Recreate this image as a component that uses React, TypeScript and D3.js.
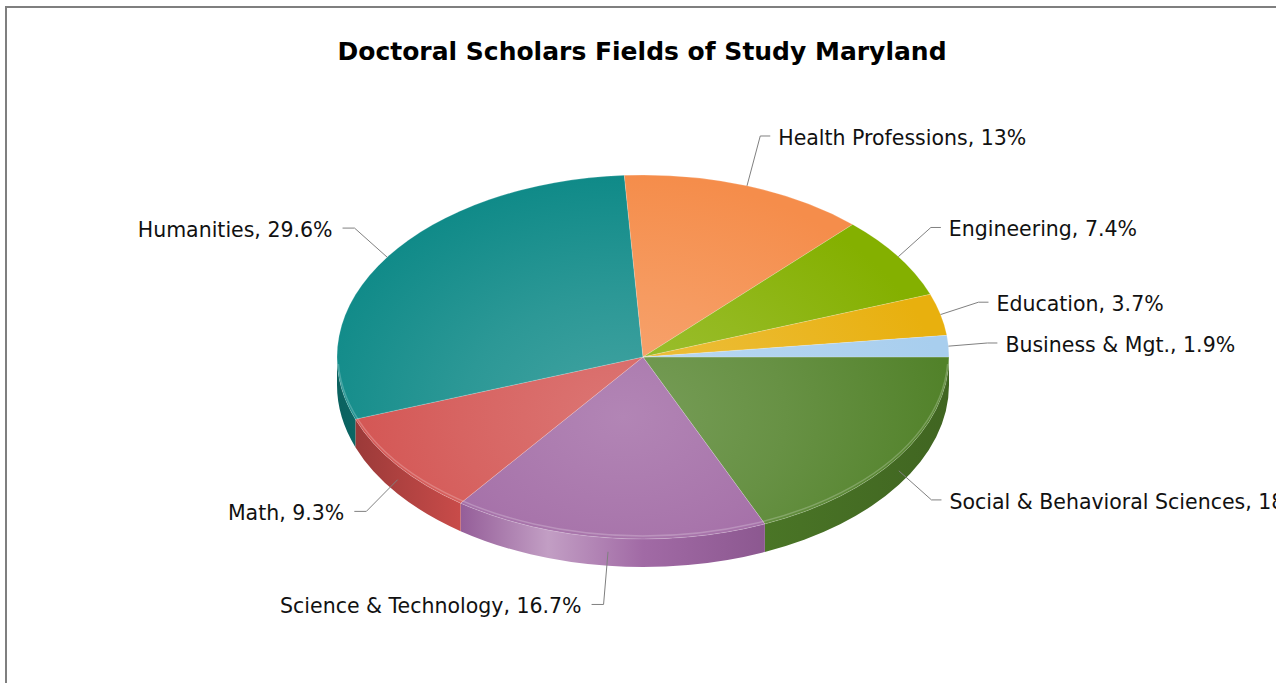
import React from 'react';
import * as d3 from 'd3';

// slices listed clockwise from 3 o'clock
const fields = [
  'Social & Behavioral Sciences',
  'Science & Technology',
  'Math',
  'Humanities',
  'Health Professions',
  'Engineering',
  'Education',
  'Business & Mgt.',
];
const shares = [18.5, 16.7, 9.3, 29.6, 13, 7.4, 3.7, 1.9];
const colors = ['#52822a', '#9c62a0', '#d24f4d', '#0f8a88', '#f58d4b', '#84b000', '#e8b00e', '#a8ceee'];

const W = 1276;
const H = 683;
const cx = 643;
const cy = 357;
const rx = 306;
const ry = 182;
const depth = 28;

const pt = (a: number, dy = 0, rX = rx, rY = ry): [number, number] => [cx + rX * Math.cos(a), cy + rY * Math.sin(a) + dy];
const tint = (c: string, t: number) => d3.interpolateRgb(c, '#ffffff')(t);
const shade = (c: string, t: number) => d3.interpolateRgb(c, '#000000')(t);

export default function App() {
  const pie = d3.pie<number>().sort(null).startAngle(Math.PI / 2).endAngle(Math.PI / 2 + 2 * Math.PI);
  // d3 angles start at 12 o'clock; shift to screen angles measured from east
  const arcs = pie(shares).map((d, i) => ({
    i,
    a0: d.startAngle - Math.PI / 2,
    a1: d.endAngle - Math.PI / 2,
    v: d.data,
  }));

  const topPath = (a0: number, a1: number) => {
    const p0 = pt(a0);
    const p1 = pt(a1);
    const large = a1 - a0 > Math.PI ? 1 : 0;
    return `M${cx},${cy}L${p0[0]},${p0[1]}A${rx},${ry} 0 ${large} 1 ${p1[0]},${p1[1]}Z`;
  };

  const sidePath = (a0: number, a1: number) => {
    const s = Math.max(a0, 0);
    const e = Math.min(a1, Math.PI);
    if (e <= s) return null;
    const p0 = pt(s);
    const p1 = pt(e);
    const q1 = pt(e, depth);
    const q0 = pt(s, depth);
    return `M${p0[0]},${p0[1]}A${rx},${ry} 0 0 1 ${p1[0]},${p1[1]}L${q1[0]},${q1[1]}A${rx},${ry} 0 0 0 ${q0[0]},${q0[1]}Z`;
  };

  const fmt = (v: number) => `${+v.toFixed(1)}%`;

  const hl0 = pt(0.05, -2, rx - 1, ry - 1);
  const hl1 = pt(Math.PI - 0.05, -2, rx - 1, ry - 1);
  const gx = cx - 20;
  const gy = cy + 60;

  return (
    <svg width={W} height={H} style={{ position: 'absolute', left: 0, top: 0 }} fontFamily="'DejaVu Sans', Verdana, sans-serif">
      <defs>
        {arcs.map(d => {
          const c = colors[d.i];
          return (
            <React.Fragment key={d.i}>
              <radialGradient id={`top${d.i}`} gradientUnits="userSpaceOnUse" cx={gx} cy={gy} r={rx + 20}
                gradientTransform={`translate(${gx},${gy}) scale(1,${(ry + 60) / (rx + 20)}) translate(${-gx},${-gy})`}>
                <stop offset="0" stopColor={tint(c, 0.22)} />
                <stop offset="0.5" stopColor={tint(c, 0.12)} />
                <stop offset="1" stopColor={c} />
              </radialGradient>
              <linearGradient id={`side${d.i}`} gradientUnits="userSpaceOnUse" x1={cx - rx} x2={cx + rx} y1={0} y2={0}>
                <stop offset="0" stopColor={shade(c, 0.3)} />
                <stop offset="0.2" stopColor={shade(c, 0.05)} />
                <stop offset="0.345" stopColor={tint(c, 0.38)} />
                <stop offset="0.5" stopColor={tint(c, 0.05)} />
                <stop offset="0.7" stopColor={shade(c, 0.1)} />
                <stop offset="1" stopColor={shade(c, 0.22)} />
              </linearGradient>
            </React.Fragment>
          );
        })}
      </defs>

      <rect x={6} y={7} width={1400} height={800} fill="#fff" stroke="#7f7f7f" strokeWidth={2} />

      <text x={642} y={60} textAnchor="middle" fontSize={25} fontWeight="bold" fill="#000">
        Doctoral Scholars Fields of Study Maryland
      </text>

      {/* outer walls of the front half */}
      {arcs.map(d => {
        const p = sidePath(d.a0, d.a1);
        return p ? <path key={`s${d.i}`} d={p} fill={`url(#side${d.i})`} /> : null;
      })}

      {/* top faces */}
      {arcs.map(d => (
        <path key={`t${d.i}`} d={topPath(d.a0, d.a1)} fill={`url(#top${d.i})`} stroke="#fff" strokeOpacity={0.3} strokeWidth={0.6} />
      ))}

      <path d={`M${hl0[0]},${hl0[1]}A${rx - 1},${ry - 1} 0 0 1 ${hl1[0]},${hl1[1]}`} fill="none" stroke="#fff" strokeOpacity={0.22} strokeWidth={1.5} />

      {/* labels with leader lines */}
      {arcs.map(d => {
        const m = (d.a0 + d.a1) / 2;
        const dy = Math.sin(m) > 0 ? depth / 2 : 0;
        const a = pt(m, dy);
        const e = pt(m, dy, rx + 39, ry + 53);
        const dir = Math.cos(m) >= 0 ? 1 : -1;
        const hx = e[0] + dir * (dir > 0 ? 10 : 12);
        return (
          <g key={`l${d.i}`}>
            <polyline points={`${a[0]},${a[1]} ${e[0]},${e[1]} ${hx},${e[1]}`} fill="none" stroke="#808080" strokeWidth={1} />
            <text x={hx + dir * (dir > 0 ? 8 : 10)} y={e[1]} dy="0.42em" textAnchor={dir > 0 ? 'start' : 'end'} fontSize={20.5} fill="#111">
              {`${fields[d.i]}, ${fmt(d.v)}`}
            </text>
          </g>
        );
      })}
    </svg>
  );
}
